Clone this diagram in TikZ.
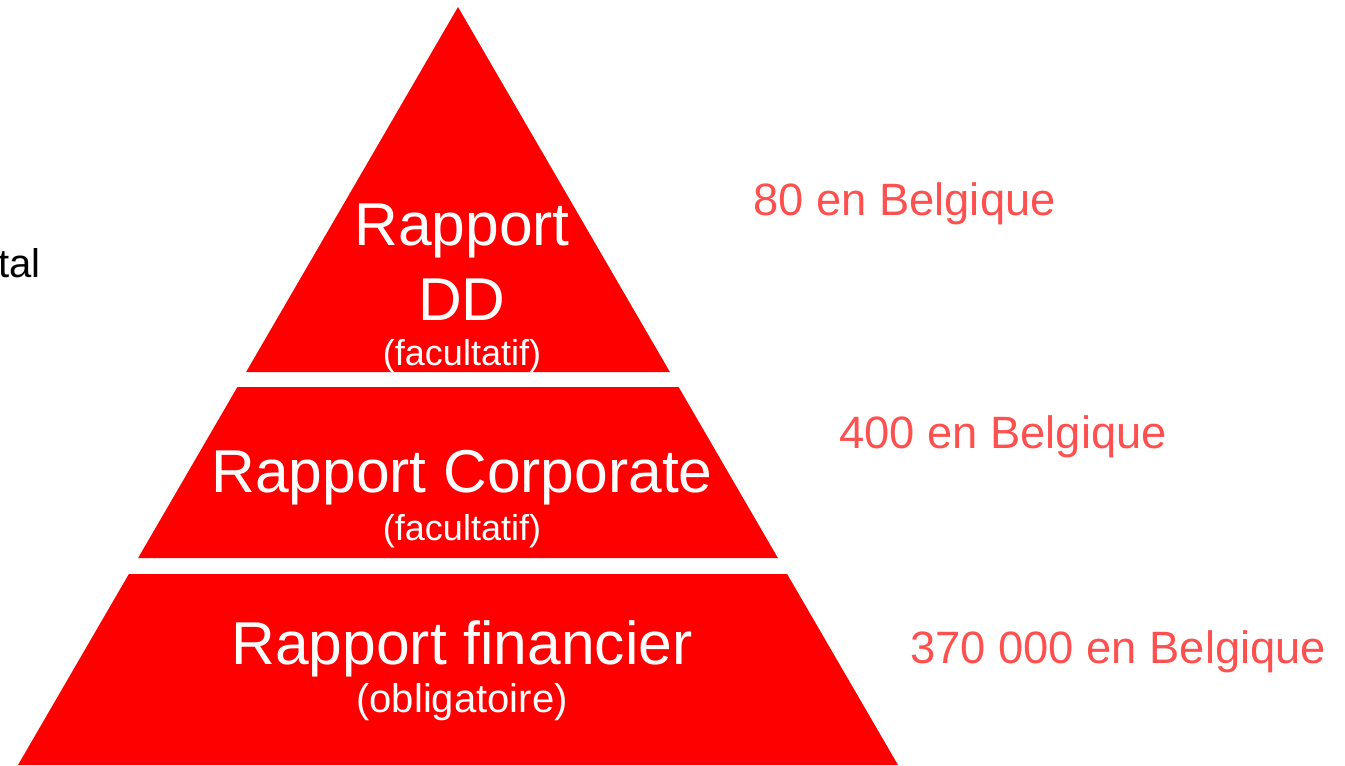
\documentclass[tikz,border=0pt]{standalone}
\usepackage{fontspec}
\setmainfont{Liberation Sans}
\usepackage{xcolor}
\definecolor{pyrred}{HTML}{FF0000}
\definecolor{countred}{HTML}{FF5050}

\begin{document}
\begin{tikzpicture}[x=0.75pt, y=-0.75pt,
    tier/.style={fill=pyrred, draw=none},
    title/.style={text=white, font=\fontsize{45.4}{50}\selectfont, anchor=base, inner sep=0pt},
    note/.style={text=white, font=\fontsize{27}{30}\selectfont, anchor=base, inner sep=0pt},
    count/.style={text=countred, font=\fontsize{34}{38}\selectfont, anchor=base west, inner sep=0pt}]
    \useasboundingbox (0,0) rectangle (1345,765);

    % Top tier
    \fill[tier] (458,7) -- (669.9,372) -- (246.1,372) -- cycle;
    \node[title] (dd1) at (462,245) {Rapport};
    \node[title] (dd2) at (462,320) {DD};
    \node[note] (ddnote) at (462,365) {(facultatif)};

    % Middle tier
    \fill[tier] (237.4,387) -- (678.6,387) -- (777.9,558) -- (138.1,558) -- cycle;
    \node[title] (corp) at (462,492) {Rapport Corporate};
    \node[note] (corpnote) at (462,540) {(facultatif)};

    % Bottom tier
    \fill[tier] (128.9,574) -- (787.1,574) -- (898,765) -- (18,765) -- cycle;
    \node[title] (fin) at (462,664) {Rapport financier};
    \node[note, font=\fontsize{30}{34}\selectfont] (finnote) at (462,712) {(obligatoire)};

    % Counts
    \node[count] (c80) at (753,215) {80 en Belgique};
    \node[count] (c400) at (839,448) {400 en Belgique};
    \node[count] (c370) at (910,663) {370 000 en Belgique};

    % Cut-off label
    \node[font=\fontsize{30}{34}\selectfont, anchor=base east, inner sep=0pt] (cut) at (41,277) {tal};
\end{tikzpicture}
\end{document}
